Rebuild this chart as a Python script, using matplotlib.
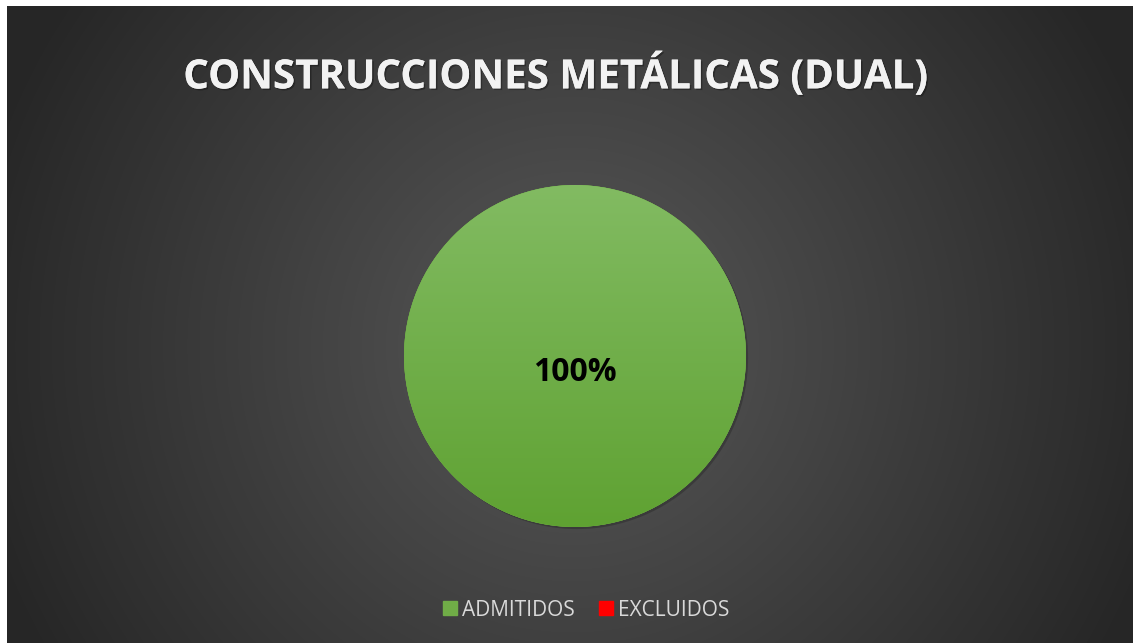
import numpy as np
import matplotlib
matplotlib.use('Agg')
import matplotlib.pyplot as plt
import matplotlib.patheffects as pe
from matplotlib.colors import LinearSegmentedColormap

TITLE = 'CONSTRUCCIONES METÁLICAS (DUAL)'
categories = ['ADMITIDOS', 'EXCLUIDOS']
values = [100, 0]
colors = ['#70ad47', '#ff0000']

plt.rcParams['font.family'] = ['Open Sans', 'DejaVu Sans']

fig = plt.figure(figsize=(11.34, 6.43), dpi=100)
fig.patch.set_facecolor('white')

# dark radial background
bg = fig.add_axes([7 / 1134, 0, 1126 / 1134, 637 / 643])
bg.set_axis_off()
yy, xx = np.mgrid[0:637, 0:1126]
r = np.hypot((xx - 565) / 620, (yy - 340) / 620)
shade = np.clip(1 - r, 0, 1)
bg_cmap = LinearSegmentedColormap.from_list('bg', ['#262626', '#585858'])
bg.imshow(shade, cmap=bg_cmap, aspect='auto', interpolation='bilinear')

fig.text(0.49, 0.882, TITLE, ha='center', va='center', fontsize=29,
         fontweight='bold', color='#f2f2f2',
         path_effects=[pe.withSimplePatchShadow(offset=(1.2, -1.2), shadow_rgbFace='black', alpha=0.3),
                       pe.Normal()])

ax = fig.add_axes([(575 - 171) / 1134, 1 - (356 + 171) / 643, 342 / 1134, 342 / 643])
ax.set_axis_off()

def fmt(p):
    return f'{p:.0f}%' if p > 0 else ''

wedges, texts, autotexts = ax.pie(values, colors=colors, startangle=90, counterclock=False,
                                  autopct=fmt, pctdistance=0.1,
                                  wedgeprops=dict(linewidth=0),
                                  textprops=dict(fontsize=23, fontweight='bold', color='black'))
ax.set_xlim(-1, 1)
ax.set_ylim(-1, 1)
for t in autotexts:
    t.set_position((0, -0.095))

# vertical green gradient inside the full wedge
grad = np.linspace(0, 1, 256).reshape(-1, 1)
g_cmap = LinearSegmentedColormap.from_list('g', ['#82bb62', '#5fa232'])
im = ax.imshow(grad, cmap=g_cmap, extent=(-1, 1, -1, 1), aspect='auto', zorder=1.5, origin='upper')
im.set_clip_path(wedges[0])
wedges[0].set_path_effects([pe.withSimplePatchShadow(offset=(1.5, -1.5), shadow_rgbFace='black', alpha=0.2),
                            pe.Normal()])

handles = [plt.Rectangle((0, 0), 1, 1, color=c) for c in colors]
fig.legend(handles, categories, loc='center', bbox_to_anchor=(0.517, 0.051), ncol=2,
           frameon=False, fontsize=15, labelcolor='#d9d9d9',
           handlelength=0.65, handleheight=0.65, handletextpad=0.25, columnspacing=1.2)

fig.savefig('out.png', dpi=100)
